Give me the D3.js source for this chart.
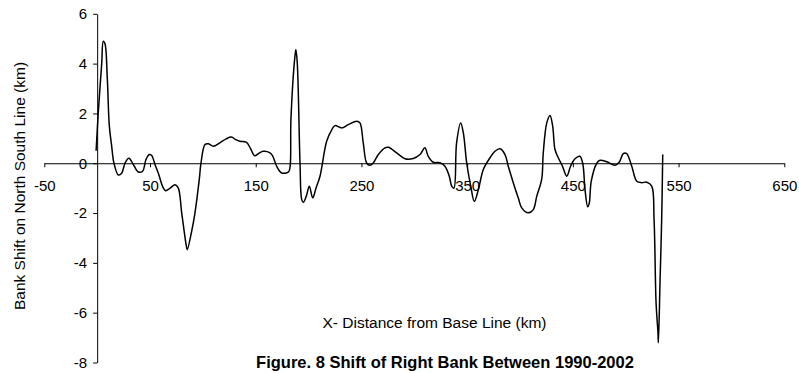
<!DOCTYPE html>
<html>
<head>
<meta charset="utf-8">
<script src="https://cdn.jsdelivr.net/npm/d3@7"></script>
<style>
  html, body { margin: 0; padding: 0; background: #fff; }
  svg { display: block; font-family: "Liberation Sans", Arial, sans-serif; }
</style>
</head>
<body>
<svg id="chart" width="799" height="373"></svg>
<script>
// Distance from base line (km)
const distance = [-1, 1, 4.3, 5.8, 7.4, 9.6, 11.5, 13.7, 15.9, 20, 23.2, 26.3, 30, 34.2, 38.9, 43, 46.2, 49.3, 51.6, 54.7,
  57.8, 62.5, 64.8, 69, 73.6, 76.7, 80, 84.7, 85.3, 89.4, 92.5, 96.6, 98.2, 102, 105, 110, 116, 122, 127, 131,
  135, 141, 145, 149, 153, 157, 163.5, 166, 169.8, 174.5, 180.8, 182.4, 183.3, 187.1, 188, 189.3, 191.9, 193.5, 195, 198,
  200.7, 203.9, 207, 210.8, 217.1, 222, 225, 231.3, 237.6, 245.5, 248.6, 251.7, 255, 258, 261, 266, 272.3, 275.4, 283.3, 291.2,
  299, 305.4, 310, 313.2, 318, 324.3, 329, 333.1, 335.4, 337.5, 340, 343.9, 346.4, 349.6, 353.4, 356.8, 360.6, 365.3, 371.6, 376.3,
  381.1, 385.8, 388.9, 393.7, 398.4, 401.6, 407.9, 412.6, 415.8, 420.5, 422, 425.3, 428.4, 430.9, 433.1, 436.2, 440, 444.2, 448, 452,
  456.6, 459.3, 461.5, 464, 465.5, 467.4, 472.6, 475.7, 482, 489.9, 494, 497.7, 500.9, 505.7, 510.4, 515, 519.9, 524.6, 526.8, 528.7,
  530.5, 530.9, 532.5, 534, 535];
// Bank shift on North South line (km)
const shift = [0.5, 2.0, 4.0, 4.9, 4.8, 3.4, 1.5, 0.7, 0, -0.47, -0.4, 0, 0.2, -0.05, -0.35, -0.32, 0.15, 0.35, 0.31, -0.05,
  -0.39, -0.99, -1.1, -1.0, -0.86, -0.99, -2.0, -3.4, -3.47, -2.73, -2.0, -0.65, 0, 0.75, 0.78, 0.68, 0.82, 0.98, 1.05, 0.95,
  0.88, 0.85, 0.6, 0.3, 0.4, 0.48, 0.42, 0.3, -0.12, -0.39, -0.36, -0.18, 1.75, 4.3, 4.57, 4.03, 0, -1.46, -1.57, -1.3,
  -0.92, -1.39, -1.0, -0.52, 0.88, 1.35, 1.51, 1.42, 1.55, 1.69, 1.62, 0.82, 0, -0.08, 0, 0.35, 0.62, 0.64, 0.42, 0.18,
  0.19, 0.35, 0.62, 0.28, 0.04, 0.02, -0.12, -0.52, -0.92, -1.0, 0.82, 1.62, 1.22, 0, -0.92, -1.53, -1.06, -0.25, 0.22, 0.48,
  0.58, 0.35, -0.12, -0.79, -1.4, -1.79, -1.99, -1.86, -1.33, -0.65, 0.42, 1.62, 1.92, 1.49, 0.55, 0.22, -0.1, -0.52, -0.1, 0.18,
  0.28, 0, -1.06, -1.75, -1.6, -0.72, 0, 0.12, 0.06, -0.08, 0.05, 0.39, 0.39, -0.12, -0.72, -0.78, -0.76, -0.92, -2.26, -5.6,
  -6.8, -7.21, -4.67, -2.26, 0.35];

const xTicks = [-50, 50, 150, 250, 350, 450, 550, 650];
const yTicks = [-8, -6, -4, -2, 0, 2, 4, 6];

const chartTitle = "Figure. 8 Shift of Right Bank Between 1990-2002";
const xTitle = "X- Distance from Base Line (km)";
const yTitle = "Bank Shift on North South Line (km)";

const svg = d3.select("#chart");
const x = d3.scaleLinear().domain([-50, 650]).range([44.3, 784.3]);
const y = d3.scaleLinear().domain([-8, 6]).range([362.5, 13.8]);

const fmt = d => String(d);

// X axis crossing at y = 0
const xAxis = svg.append("g")
  .attr("transform", `translate(0,${y(0)})`)
  .call(d3.axisBottom(x).tickValues(xTicks).tickSize(4).tickSizeOuter(0).tickPadding(13).tickFormat(fmt));
// Y axis crossing at x = 0
const yAxis = svg.append("g")
  .attr("transform", `translate(${x(0)},0)`)
  .call(d3.axisLeft(y).tickValues(yTicks).tickSize(4).tickSizeOuter(0).tickPadding(6).tickFormat(fmt));

[xAxis, yAxis].forEach(g => {
  g.selectAll("path.domain").attr("stroke", "#000").attr("stroke-width", 1);
  g.selectAll(".tick line").attr("stroke", "#000").attr("stroke-width", 1);
  g.selectAll(".tick text").attr("fill", "#000").style("font-size", "15px")
    .style("font-family", '"Liberation Sans", Arial, sans-serif');
});

// Data line
const pts = distance.map((d, i) => [d, shift[i]]);
const line = d3.line().x(d => x(d[0])).y(d => y(d[1])).curve(d3.curveCatmullRom.alpha(0.5));
svg.append("path")
  .datum(pts)
  .attr("d", line)
  .attr("fill", "none")
  .attr("stroke", "#000")
  .attr("stroke-width", 1.5)
  .attr("stroke-linejoin", "round");

// Titles
svg.append("text")
  .attr("x", 434.5).attr("y", 328)
  .attr("text-anchor", "middle")
  .style("font-size", "15.5px")
  .text(xTitle);

svg.append("text")
  .attr("transform", `translate(25,186) rotate(-90)`)
  .attr("text-anchor", "middle")
  .style("font-size", "15.5px")
  .text(yTitle);

svg.append("text")
  .attr("x", 445).attr("y", 368)
  .attr("text-anchor", "middle")
  .style("font-size", "16.5px")
  .style("font-weight", "bold")
  .text(chartTitle);
</script>
</body>
</html>
